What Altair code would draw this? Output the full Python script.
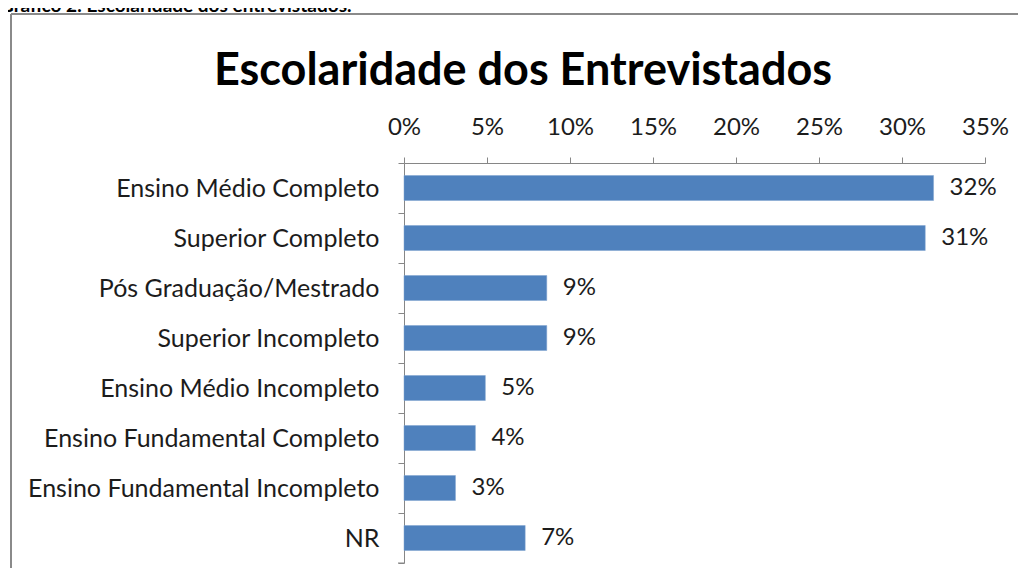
import altair as alt
import pandas as pd

categories = [
    "Ensino Médio Completo",
    "Superior Completo",
    "Pós Graduação/Mestrado",
    "Superior Incompleto",
    "Ensino Médio Incompleto",
    "Ensino Fundamental Completo",
    "Ensino Fundamental Incompleto",
    "NR",
]
values = [31.9, 31.4, 8.6, 8.6, 4.9, 4.3, 3.1, 7.3]
value_labels = ["32%", "31%", "9%", "9%", "5%", "4%", "3%", "7%"]
x_ticks = [0, 5, 10, 15, 20, 25, 30, 35]
title_text = "Escolaridade dos Entrevistados"
caption_text = "Gráfico 2: Escolaridade dos entrevistados."

df = pd.DataFrame({"cat": categories, "val": values, "lbl": value_labels})

FONT = "Lato"
W, H = 581, 400
GREY = "#868686"
BLUE = "#4F81BD"
TXT = "#1c1c1c"

y_enc = alt.Y(
    "cat:N",
    sort=categories,
    scale=alt.Scale(paddingInner=0, paddingOuter=0),
    axis=alt.Axis(
        title=None,
        tickBand="extent",
        tickSize=6,
        tickColor=GREY,
        domainColor=GREY,
        labelPadding=19,
        labelFont=FONT,
        labelFontSize=25,
        labelColor=TXT,
        labelLimit=0,
        grid=False,
    ),
)
x_enc = alt.X(
    "val:Q",
    scale=alt.Scale(domain=[0, 35], nice=False),
    axis=alt.Axis(
        title=None,
        orient="top",
        values=x_ticks,
        labelExpr="datum.value + '%'",
        labelFlush=False,
        tickSize=6,
        tickColor=GREY,
        domainColor=GREY,
        labelPadding=18,
        labelFont=FONT,
        labelFontSize=24,
        labelColor=TXT,
        grid=False,
    ),
)

base = alt.Chart(df)
bars = base.mark_bar(color=BLUE, size=25, stroke="#7fa3cf", strokeWidth=0.5).encode(x=x_enc, y=y_enc)
texts = base.mark_text(align="left", baseline="middle", dx=16, font=FONT, fontSize=24, color=TXT).encode(
    x="val:Q", y=alt.Y("cat:N", sort=categories), text="lbl:N"
)

deco = alt.Chart(pd.DataFrame({"t": [title_text]}))
title = deco.mark_text(align="center", baseline="alphabetic", font=FONT, fontWeight="bold", fontSize=45, color="#000").encode(
    x=alt.value(119), y=alt.value(-78), text="t:N"
)
caption = alt.Chart(pd.DataFrame({"t": [caption_text]})).mark_text(
    align="left", baseline="alphabetic", font=FONT, fontWeight="bold", fontSize=19, color="#000"
).encode(x=alt.value(-404), y=alt.value(-151), text="t:N")

bottom_tick = deco.mark_rule(color=GREY, strokeWidth=1).encode(
    x=alt.value(-6), x2=alt.value(0), y=alt.value(H)
)
border_top = deco.mark_rule(color="#8a8a8a", strokeWidth=2).encode(
    x=alt.value(-393), x2=alt.value(800), y=alt.value(-149)
)
border_left = deco.mark_rule(color="#8a8a8a", strokeWidth=2).encode(
    x=alt.value(-393), y=alt.value(-149), y2=alt.value(600)
)

chart = alt.layer(border_top, border_left, caption, title, bars, texts, bottom_tick).properties(
    width=W,
    height=H,
    padding={"left": 396, "top": 155, "right": 33, "bottom": 5},
    autosize=alt.AutoSizeParams(type="none"),
).configure_view(stroke=None).configure_axis(domainWidth=1, tickWidth=1)

chart.save("out.html", embed_options={"renderer": "svg", "actions": False})
